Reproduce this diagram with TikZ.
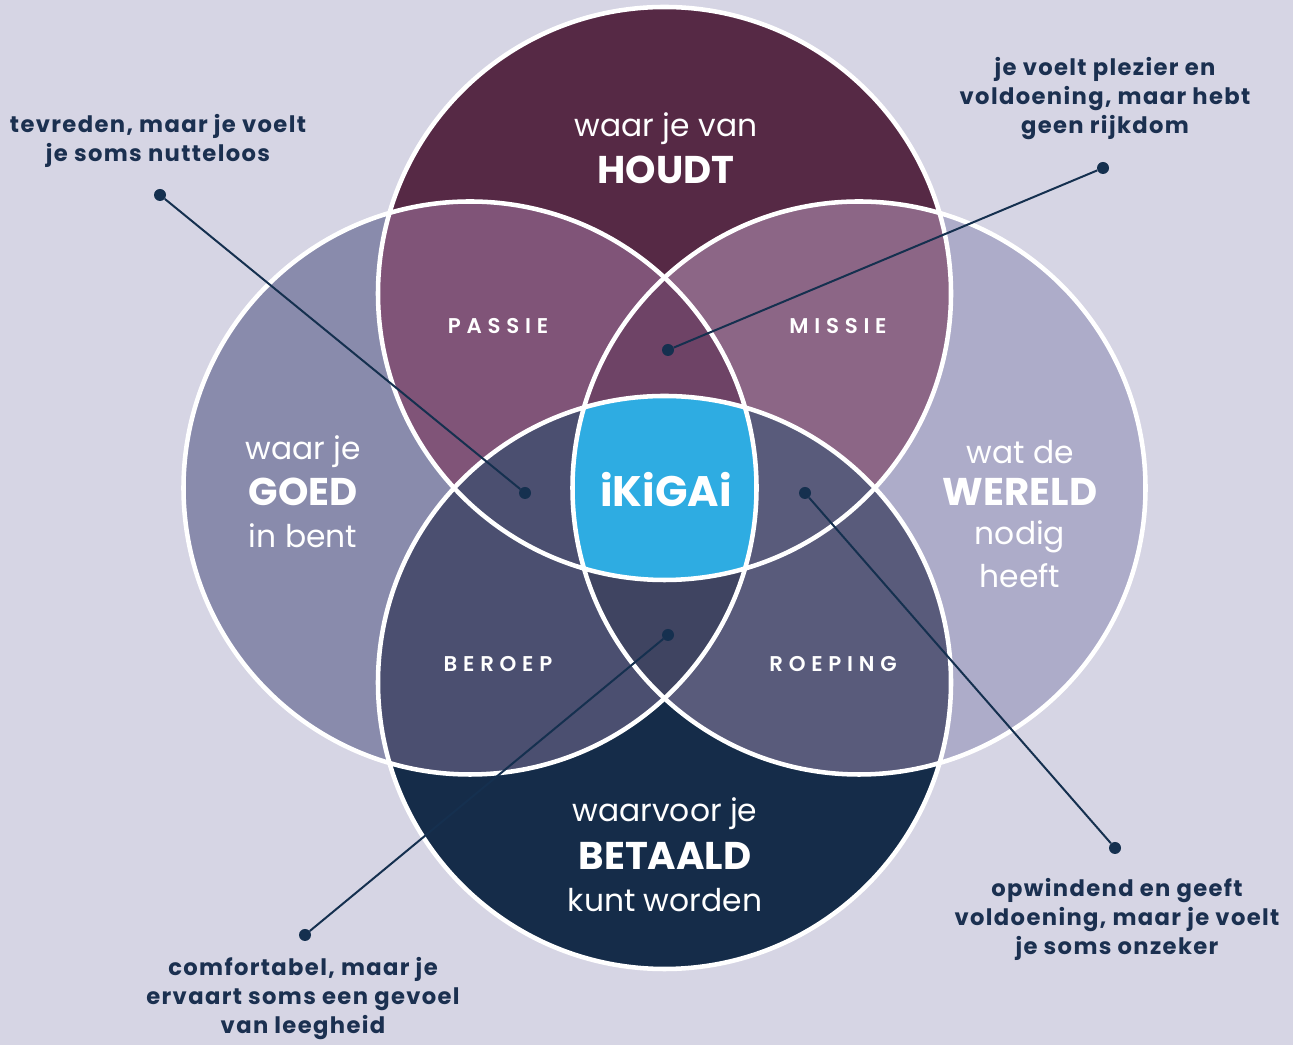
\documentclass[tikz,border=0pt]{standalone}
\usepackage{fontspec}
\setmainfont{Poppins}
\newfontfamily\capsfont[LetterSpace=27]{Poppins SemiBold}
\newfontfamily\notefont[LetterSpace=6]{Poppins}
\usetikzlibrary{positioning}

\definecolor{bg}{HTML}{D6D5E4}
\definecolor{navy}{HTML}{15304F}
\definecolor{ink}{HTML}{1B3050}
\definecolor{topc}{HTML}{562945}
\definecolor{leftc}{HTML}{898BAC}
\definecolor{rightc}{HTML}{ADACC9}
\definecolor{botc}{HTML}{152C49}
\definecolor{passie}{HTML}{805478}
\definecolor{missie}{HTML}{8C6686}
\definecolor{beroep}{HTML}{4B4F70}
\definecolor{roeping}{HTML}{595B7B}
\definecolor{tlr}{HTML}{6E4366}
\definecolor{lbr}{HTML}{3F4461}
\definecolor{tlb}{HTML}{564A6C}
\definecolor{trb}{HTML}{655E7F}
\definecolor{ikigai}{HTML}{2EACE2}

\tikzset{
	ring/.style={draw=white, line width=3.4pt},
	dot/.style={circle, fill=navy, inner sep=0pt, minimum size=9pt},
	pointer/.style={draw=navy, line width=1.5pt},
	note/.style={text=ink, align=center, font=\notefont\bfseries\fontsize{17}{21.75}\selectfont},
	soft/.style={text=white, font=\fontsize{23.5}{27}\selectfont},
	big/.style={text=white, font=\bfseries\fontsize{29}{33}\selectfont},
	tag/.style={text=white, font=\capsfont\fontsize{16}{19}\selectfont},
}

\begin{document}
\begin{tikzpicture}[x=0.75pt, y=0.75pt]
	\useasboundingbox[fill=bg] (0,0) rectangle (1293,1045);
	\def\rr{286.5}
	\coordinate (T) at (664.5,751.5);
	\coordinate (L) at (470,557);
	\coordinate (R) at (859,557);
	\coordinate (B) at (664.5,362.5);

	% the four circles
	\fill[topc] (T) circle (\rr);
	\fill[leftc] (L) circle (\rr);
	\fill[rightc] (R) circle (\rr);
	\fill[botc] (B) circle (\rr);

	% overlaps
	\begin{scope}
		\clip (T) circle (\rr);
		\fill[passie] (L) circle (\rr);
		\fill[missie] (R) circle (\rr);
		\begin{scope}
			\clip (L) circle (\rr);
			\fill[tlr] (R) circle (\rr);
			\fill[tlb] (B) circle (\rr);
		\end{scope}
		\begin{scope}
			\clip (R) circle (\rr);
			\fill[trb] (B) circle (\rr);
		\end{scope}
	\end{scope}
	\begin{scope}
		\clip (B) circle (\rr);
		\fill[beroep] (L) circle (\rr);
		\fill[roeping] (R) circle (\rr);
		\begin{scope}
			\clip (L) circle (\rr);
			\fill[lbr] (R) circle (\rr);
		\end{scope}
	\end{scope}
	\begin{scope}
		\clip (T) circle (\rr);
		\clip (L) circle (\rr);
		\clip (R) circle (\rr);
		\fill[ikigai] (B) circle (\rr);
	\end{scope}

	\draw[ring] (T) circle (\rr);
	\draw[ring] (L) circle (\rr);
	\draw[ring] (R) circle (\rr);
	\draw[ring] (B) circle (\rr);

	% circle texts
	\node (vanT)[soft] at (666,916) {waar je van};
	\node (houdt)[big] at (666,875) {HOUDT};
	\node (vanL)[soft] at (303,593) {waar je};
	\node (goed)[big] at (303,553) {GOED};
	\node (inL)[soft] at (303,509) {in bent};
	\node (vanR)[soft] at (1020,593) {wat de};
	\node (wereld)[big] at (1020,553) {WERELD};
	\node (nodig)[soft] at (1020,508) {nodig};
	\node (heeft)[soft] at (1020,469) {heeft};
	\node (vanB)[soft] at (665,231) {waarvoor je};
	\node (betaald)[big] at (665,189) {BETAALD};
	\node (kunt)[soft] at (665,145) {kunt worden};

	\node (passie)[tag] at (498,719) {PASSIE};
	\node (missie)[tag] at (838,719) {MISSIE};
	\node (beroep)[tag] at (498,381) {BEROEP};
	\node (roeping)[tag] at (833,381) {ROEPING};
	\node (iki)[text=white, font=\bfseries\fontsize{32}{36}\selectfont] at (666,555) {iKiGAi};

	% notes
	\node (n1)[note] at (158,904) {tevreden, maar je voelt\\je soms nutteloos};
	\node (n2)[note] at (1105,946) {je voelt plezier en\\voldoening, maar hebt\\geen rijkdom};
	\node (n3)[note] at (1117,126) {opwindend en geeft\\voldoening, maar je voelt\\je soms onzeker};
	\node (n4)[note] at (303,46) {comfortabel, maar je\\ervaart soms een gevoel\\van leegheid};

	% pointers
	\node (p1)[dot] at (160,850) {};
	\node (q1)[dot] at (525,552) {};
	\node (p2)[dot] at (1103,877) {};
	\node (q2)[dot] at (668,695) {};
	\node (p3)[dot] at (1115,197) {};
	\node (q3)[dot] at (805,552) {};
	\node (p4)[dot] at (305,110) {};
	\node (q4)[dot] at (668,410) {};
	\draw[pointer] (p1) -- (q1);
	\draw[pointer] (p2) -- (q2);
	\draw[pointer] (p3) -- (q3);
	\draw[pointer] (p4) -- (q4);
\end{tikzpicture}
\end{document}
